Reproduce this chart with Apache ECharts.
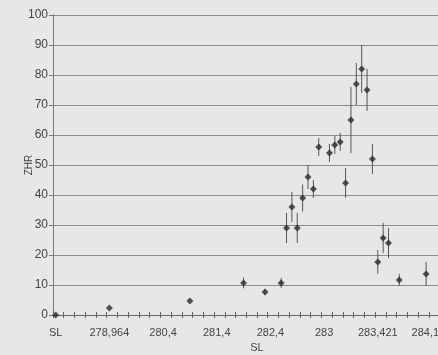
<!DOCTYPE html>
<html>
<head>
<meta charset="utf-8">
<script src="https://cdn.jsdelivr.net/npm/echarts@6/dist/echarts.min.js"></script>
<style>
html,body{margin:0;padding:0;background:#e7e7e5;overflow:hidden;}
#c{width:438px;height:355px;}
</style>
</head>
<body>
<div id="c"></div>
<script>
// Category axis: 76 slots, labelled every 10th slot
const categoryCount = 76;
const tickLabels = ['SL', '278,964', '280,4', '281,4', '282,4', '283', '283,421', '284,161'];
// Observations: category slot, ZHR, error (+/-)
const slot = [0, 10, 25, 35, 39, 42, 43, 44, 45, 46, 47, 48, 49, 51, 52, 53, 54, 55, 56, 57, 58, 59, 60, 61, 62, 64, 69];
const zhr  = [0, 2.3, 4.7, 10.7, 7.7, 10.7, 29, 36, 29, 39, 46, 42, 56, 54, 56.7, 57.7, 44, 65, 77, 82, 75, 52, 17.7, 25.7, 24, 11.7, 13.7];
const err  = [0, 0, 0, 1.8, 1, 1.6, 5, 5, 5, 4.5, 4, 3, 3, 3, 3, 3, 5, 11, 7, 8, 7, 5, 4, 5, 5, 2, 4];
const yTicks = [0, 10, 20, 30, 40, 50, 60, 70, 80, 90, 100];

const categories = [];
for (let i = 0; i < categoryCount; i++) categories.push(i % 10 === 0 ? (tickLabels[i / 10] || '') : '');

const pts = slot.map((s, i) => [s, zhr[i]]);
const bars = slot.map((s, i) => [s, zhr[i] - err[i], zhr[i] + err[i]]).filter((d, i) => err[i] > 0);

const chart = echarts.init(document.getElementById('c'), null, {renderer: 'canvas'});
const font = 'Liberation Sans, Arial, sans-serif';
chart.setOption({
  backgroundColor: '#e7e7e5',
  animation: false,
  grid: {left: 53, top: 15, width: 408, height: 300, containLabel: false, outerBoundsMode: 'none'},
  xAxis: [{
    type: 'category', data: categories, boundaryGap: true,
    name: 'SL', nameLocation: 'middle', nameGap: 27, nameMoveOverlap: false,
    nameTextStyle: {color: '#444', fontSize: 11, fontFamily: font},
    axisLine: {lineStyle: {color: '#666', width: 1}},
    axisTick: {show: true, interval: 1, length: 3, lineStyle: {color: '#666'}},
    axisLabel: {interval: 9, margin: 12, color: '#444', fontSize: 11, fontFamily: font},
    splitLine: {show: false}
  }, {
    type: 'category', data: categories, boundaryGap: true, position: 'bottom', gridIndex: 0,
    axisLine: {show: false},
    axisTick: {show: true, inside: true, interval: 1, length: 3, lineStyle: {color: '#666'}},
    axisLabel: {show: false}, splitLine: {show: false}
  }],
  yAxis: {
    type: 'value', min: yTicks[0], max: yTicks[yTicks.length - 1], interval: 10,
    name: 'ZHR', nameLocation: 'middle', nameGap: 19, nameRotate: 90, nameMoveOverlap: false,
    nameTextStyle: {color: '#444', fontSize: 10, fontFamily: font},
    axisLine: {show: true, lineStyle: {color: '#777'}},
    axisTick: {show: true, length: 4, lineStyle: {color: '#777'}},
    axisLabel: {margin: 5, color: '#444', fontSize: 12, fontFamily: font},
    splitLine: {show: true, lineStyle: {color: '#8c8c8c', width: 1}}
  },
  series: [{
    type: 'custom', xAxisIndex: 0,
    renderItem: function (params, api) {
      const a = api.coord([api.value(0), api.value(1)]);
      const b = api.coord([api.value(0), api.value(2)]);
      return {type: 'line', shape: {x1: a[0], y1: a[1], x2: b[0], y2: b[1]}, style: {stroke: '#555', lineWidth: 1}};
    },
    data: bars, z: 2
  }, {
    type: 'scatter', xAxisIndex: 0, symbol: 'diamond', symbolSize: 7,
    itemStyle: {color: '#2a2a2a'}, data: pts, z: 3
  }]
});
</script>
</body>
</html>
